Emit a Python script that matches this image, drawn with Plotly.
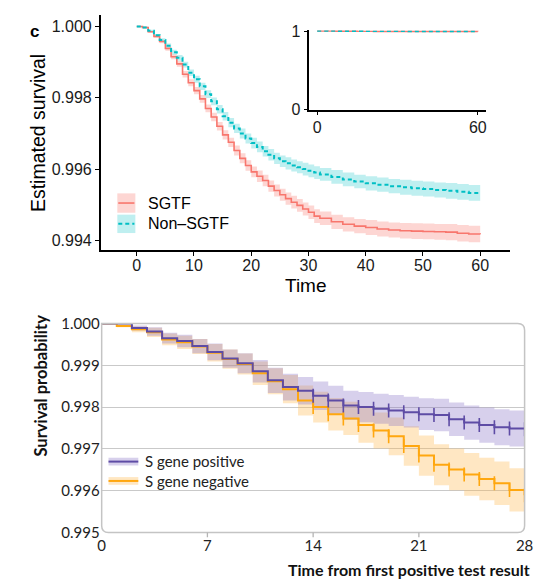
import plotly.graph_objects as go

W, H = 559, 587

# ---------------- Top panel data (panel c) ----------------
top_time = list(range(0, 33)) + [34, 36, 38, 40, 42, 44, 46, 48, 50, 52, 54, 56, 58, 60]
sgtf_surv = [1.0, 0.99997, 0.99985, 0.99972, 0.99958, 0.99938, 0.99915, 0.99895, 0.99866, 0.99842,
             0.99820, 0.99797, 0.99770, 0.99746, 0.99720, 0.99696, 0.99675, 0.99652, 0.99630, 0.99610,
             0.99592, 0.99580, 0.99568, 0.99552, 0.99540, 0.99528, 0.99517, 0.99507, 0.99498, 0.99488,
             0.99479, 0.99468, 0.99462,
             0.99452, 0.99445, 0.99440, 0.99436, 0.99432, 0.99429, 0.99427, 0.99426, 0.99425, 0.99424,
             0.99423, 0.99420, 0.99418, 0.99417]
sgtf_ci = [0.0, 0.00002, 0.00003, 0.00004, 0.00005, 0.00006, 0.00007, 0.00008, 0.00009, 0.0001,
           0.0001, 0.00011, 0.00011, 0.00012, 0.00012, 0.00013, 0.00013, 0.00014, 0.00014, 0.00015,
           0.00015, 0.00016, 0.00016, 0.00016, 0.00017, 0.00017, 0.00017, 0.00018, 0.00018, 0.00018,
           0.00019, 0.00019, 0.00019,
           0.0002, 0.0002, 0.0002, 0.00021, 0.00021, 0.00021, 0.00022, 0.00022, 0.00022, 0.00022,
           0.00023, 0.00023, 0.00023, 0.00023]
nonsgtf_surv = [1.0, 0.99997, 0.99988, 0.99975, 0.99962, 0.99946, 0.99928, 0.99912, 0.99893, 0.99870,
                0.99852, 0.99832, 0.99810, 0.99790, 0.99768, 0.99748, 0.99730, 0.99714, 0.99700, 0.99686,
                0.99673, 0.99662, 0.99650, 0.99640, 0.99630, 0.99622, 0.99616, 0.99610, 0.99605, 0.99600,
                0.99595, 0.99590, 0.99585,
                0.99578, 0.99571, 0.99565, 0.99560, 0.99556, 0.99552, 0.99549, 0.99546, 0.99544, 0.99541,
                0.99539, 0.99536, 0.99533, 0.99531]
nonsgtf_ci = [0.0, 0.00002, 0.00003, 0.00004, 0.00005, 0.00006, 0.00007, 0.00008, 0.00008, 0.00009,
              0.0001, 0.0001, 0.00011, 0.00011, 0.00012, 0.00012, 0.00013, 0.00013, 0.00014, 0.00014,
              0.00015, 0.00015, 0.00015, 0.00016, 0.00016, 0.00016, 0.00017, 0.00017, 0.00017, 0.00018,
              0.00018, 0.00018, 0.00018,
              0.00019, 0.00019, 0.00019, 0.0002, 0.0002, 0.0002, 0.00021, 0.00021, 0.00021, 0.00021,
              0.00022, 0.00022, 0.00022, 0.00022]
top_xticks = [0, 10, 20, 30, 40, 50, 60]
top_yticks = [0.994, 0.996, 0.998, 1.000]
inset_xticks = [0, 60]
inset_yticks = [0, 1]

# ---------------- Bottom panel data ----------------
bot_time = list(range(0, 29))
pos_surv = [1.0, 1.0, 0.99989, 0.99981, 0.99965, 0.99958, 0.99946, 0.99932, 0.99916, 0.99905,
            0.99886, 0.99864, 0.99848, 0.99839, 0.99827, 0.99816, 0.99804, 0.99800, 0.99796, 0.99792,
            0.99788, 0.99783, 0.99781, 0.99771, 0.99763, 0.99757, 0.99752, 0.99749, 0.99747]
pos_ci = [0.0, 0.00002, 0.00006, 0.0001, 0.00013, 0.00015, 0.00017, 0.0002, 0.00022, 0.00024,
          0.00027, 0.0003, 0.00032, 0.00033, 0.00034, 0.00035, 0.00035, 0.00036, 0.00036, 0.00037,
          0.00037, 0.00038, 0.00039, 0.0004, 0.00041, 0.00042, 0.00043, 0.00043, 0.00043]
neg_surv = [1.0, 0.99994, 0.99986, 0.99979, 0.99962, 0.99955, 0.99945, 0.99930, 0.99915, 0.99903,
            0.99881, 0.99862, 0.99843, 0.99816, 0.99800, 0.99783, 0.99773, 0.99757, 0.99744, 0.99730,
            0.99707, 0.99684, 0.99662, 0.99651, 0.99639, 0.99628, 0.99618, 0.99602, 0.99589]
neg_ci = [0.0, 0.00003, 0.00007, 0.00011, 0.00014, 0.00016, 0.00018, 0.00021, 0.00023, 0.00025,
          0.00028, 0.00031, 0.00034, 0.00036, 0.00037, 0.00039, 0.0004, 0.00042, 0.00043, 0.00045,
          0.00047, 0.00048, 0.00049, 0.0005, 0.00051, 0.00051, 0.00052, 0.00052, 0.00052]
censor_days = list(range(14, 29))
bot_xticks = [0, 7, 14, 21, 28]
bot_yticks = [0.995, 0.996, 0.997, 0.998, 0.999, 1.000]

RED, RED_BAND = "#F8766D", "rgba(248,118,109,0.30)"
CYAN, CYAN_BAND = "#00BFC4", "rgba(0,191,196,0.25)"
PURP, PURP_BAND = "#5E4CA5", "rgba(130,110,195,0.32)"
ORNG, ORNG_BAND = "#FFA70F", "rgba(255,185,80,0.34)"
TOPFONT = "Liberation Sans"
BOTFONT = "Lato"


def fx(px):
    return px / W


def fy(py):
    return 1 - py / H


fig = go.Figure()


def add_band(t, s, ci, band, xa, ya):
    lo = [v - c for v, c in zip(s, ci)]
    hi = [v + c for v, c in zip(s, ci)]
    fig.add_trace(go.Scatter(x=t, y=lo, mode="lines", line=dict(width=0, shape="hv"),
                             showlegend=False, hoverinfo="skip", xaxis=xa, yaxis=ya))
    fig.add_trace(go.Scatter(x=t, y=hi, mode="lines", line=dict(width=0, shape="hv"),
                             fill="tonexty", fillcolor=band, showlegend=False,
                             hoverinfo="skip", xaxis=xa, yaxis=ya))


# top panel
add_band(top_time, sgtf_surv, sgtf_ci, RED_BAND, "x", "y")
add_band(top_time, nonsgtf_surv, nonsgtf_ci, CYAN_BAND, "x", "y")
fig.add_trace(go.Scatter(x=top_time, y=sgtf_surv, mode="lines", name="SGTF",
                         line=dict(color=RED, width=1.6, shape="hv"), xaxis="x", yaxis="y"))
fig.add_trace(go.Scatter(x=top_time, y=nonsgtf_surv, mode="lines", name="Non-SGTF",
                         line=dict(color=CYAN, width=2, dash="4px,3px", shape="hv"),
                         xaxis="x", yaxis="y"))
# inset
fig.add_trace(go.Scatter(x=top_time, y=sgtf_surv, mode="lines",
                         line=dict(color=RED, width=1.4, shape="hv"), xaxis="x3", yaxis="y3"))
fig.add_trace(go.Scatter(x=top_time, y=nonsgtf_surv, mode="lines",
                         line=dict(color=CYAN, width=1.4, dash="4px,3px", shape="hv"),
                         xaxis="x3", yaxis="y3"))

# bottom panel
add_band(bot_time, neg_surv, neg_ci, ORNG_BAND, "x2", "y2")
add_band(bot_time, pos_surv, pos_ci, PURP_BAND, "x2", "y2")
fig.add_trace(go.Scatter(x=bot_time, y=neg_surv, mode="lines", name="S gene negative",
                         line=dict(color=ORNG, width=2, shape="hv"), xaxis="x2", yaxis="y2"))
fig.add_trace(go.Scatter(x=bot_time, y=pos_surv, mode="lines", name="S gene positive",
                         line=dict(color=PURP, width=2, shape="hv"), xaxis="x2", yaxis="y2"))
fig.add_trace(go.Scatter(x=censor_days, y=[neg_surv[d] for d in censor_days], mode="markers",
                         marker=dict(symbol="line-ns", size=10, line=dict(color=ORNG, width=1.6)),
                         xaxis="x2", yaxis="y2"))
fig.add_trace(go.Scatter(x=censor_days, y=[pos_surv[d] for d in censor_days], mode="markers",
                         marker=dict(symbol="line-ns", size=10, line=dict(color=PURP, width=1.6)),
                         xaxis="x2", yaxis="y2"))

axis_common = dict(showgrid=False, zeroline=False, showline=True, linecolor="black",
                   linewidth=1.6, ticks="outside", ticklen=4, tickwidth=1.3, tickcolor="black",
                   tickfont=dict(family=TOPFONT, size=16, color="#1a1a1a"))

fig.update_layout(
    width=W, height=H, margin=dict(l=0, r=0, t=0, b=0),
    paper_bgcolor="white", plot_bgcolor="rgba(0,0,0,0)", showlegend=False,
    xaxis=dict(domain=[fx(99), fx(518)], range=[-6.3, 65.2], anchor="y",
               tickvals=top_xticks, ticklabelstandoff=-4, **axis_common),
    yaxis=dict(domain=[fy(248), fy(5)], range=[0.99373, 1.000326], anchor="x",
               tickvals=top_yticks, ticktext=[f"{v:.3f}" for v in top_yticks], **axis_common),
    xaxis3=dict(domain=[fx(312.7), fx(493)], range=[-2.9, 62.9], anchor="y3",
                tickvals=inset_xticks, ticklabelstandoff=-2, **axis_common),
    yaxis3=dict(domain=[fy(103), fy(20.5)], range=[0, 1.016], anchor="x3",
                tickvals=inset_yticks, **axis_common),
    xaxis2=dict(domain=[fx(100), fx(533)], range=[0, 28], anchor="y2",
                tickvals=bot_xticks, showgrid=False, zeroline=False, showline=False, ticks="",
                ticklabelstandoff=2,
                tickfont=dict(family=BOTFONT, size=15, color="#222")),
    yaxis2=dict(domain=[fy(540), fy(324)], range=[0.995, 1.000], anchor="x2",
                tickvals=bot_yticks, ticktext=[f"{v:.3f}" for v in bot_yticks],
                showgrid=True, gridcolor="#c9c9c9", gridwidth=1.3, zeroline=False,
                showline=False, ticks="", ticklabelstandoff=1,
                tickfont=dict(family=BOTFONT, size=15, color="#222")),
)

shapes = []
# rounded frame for bottom panel (top-left corner square)
L, R, T, B = fx(100), fx(533), fy(324), fy(540)
rx, ry = 7 / W, 7 / H
path = (f"M {L},{T} L {R - rx},{T} Q {R},{T} {R},{T - ry} L {R},{B + ry} Q {R},{B} {R - rx},{B} "
        f"L {L + rx},{B} Q {L},{B} {L},{B + ry} Z")
shapes.append(dict(type="path", xref="paper", yref="paper", path=path,
                   line=dict(color="#c4c4c4", width=1.5)))
for t in [7, 14, 21]:
    shapes.append(dict(type="line", xref="x2", yref="paper", x0=t, x1=t, y0=fy(540), y1=fy(545),
                       line=dict(color="#b5b5b5", width=1.3)))

# top legend keys
shapes.append(dict(type="rect", xref="paper", yref="paper", x0=fx(116), x1=fx(134.5),
                   y0=fy(209.5), y1=fy(189.5), fillcolor=RED_BAND, line=dict(width=0)))
shapes.append(dict(type="line", xref="paper", yref="paper", x0=fx(117), x1=fx(133.5),
                   y0=fy(199.5), y1=fy(199.5), line=dict(color=RED, width=1.6)))
shapes.append(dict(type="rect", xref="paper", yref="paper", x0=fx(116), x1=fx(134.5),
                   y0=fy(230.5), y1=fy(211.5), fillcolor=CYAN_BAND, line=dict(width=0)))
shapes.append(dict(type="line", xref="paper", yref="paper", x0=fx(117), x1=fx(133.5),
                   y0=fy(221), y1=fy(221), line=dict(color=CYAN, width=2, dash="4px,3px")))
# bottom legend keys
shapes.append(dict(type="rect", xref="paper", yref="paper", x0=fx(107), x1=fx(137.5),
                   y0=fy(470.7), y1=fy(462.7), fillcolor=PURP_BAND, line=dict(width=0)))
shapes.append(dict(type="line", xref="paper", yref="paper", x0=fx(107), x1=fx(137.5),
                   y0=fy(466.7), y1=fy(466.7), line=dict(color=PURP, width=2)))
shapes.append(dict(type="rect", xref="paper", yref="paper", x0=fx(107), x1=fx(137.5),
                   y0=fy(490.7), y1=fy(482.7), fillcolor=ORNG_BAND, line=dict(width=0)))
shapes.append(dict(type="line", xref="paper", yref="paper", x0=fx(107), x1=fx(137.5),
                   y0=fy(486.7), y1=fy(486.7), line=dict(color=ORNG, width=2)))
fig.update_layout(shapes=shapes)

ann = [
    dict(text="<b>c</b>", x=fx(31), y=fy(22), font=dict(family=TOPFONT, size=17, color="black")),
    dict(text="Estimated survival", x=fx(35), y=fy(127), textangle=-90,
         font=dict(family=TOPFONT, size=19.5, color="black")),
    dict(text="Time", x=fx(309), y=fy(285), font=dict(family=TOPFONT, size=19, color="black")),
    dict(text="SGTF", x=fx(145), y=fy(199.5), xanchor="left",
         font=dict(family=TOPFONT, size=16, color="black")),
    dict(text="Non\u2013SGTF", x=fx(145), y=fy(221), xanchor="left",
         font=dict(family=TOPFONT, size=16, color="black")),
    dict(text="<b>Survival probability</b>", x=fx(38), y=fy(388), textangle=-90,
         font=dict(family=BOTFONT, size=16.5, color="#111")),
    dict(text="<b>Time from first positive test result</b>", x=fx(541), y=fy(578),
         xanchor="right", font=dict(family=BOTFONT, size=16, color="#111")),
    dict(text="S gene positive", x=fx(142), y=fy(466.5), xanchor="left",
         font=dict(family=BOTFONT, size=15, color="#222")),
    dict(text="S gene negative", x=fx(142), y=fy(486.5), xanchor="left",
         font=dict(family=BOTFONT, size=15, color="#222")),
]
for a in ann:
    a.update(xref="paper", yref="paper", showarrow=False)
    a.setdefault("xanchor", "center")
    a.setdefault("yanchor", "middle")
fig.update_layout(annotations=ann)

fig.write_html("out.html")
